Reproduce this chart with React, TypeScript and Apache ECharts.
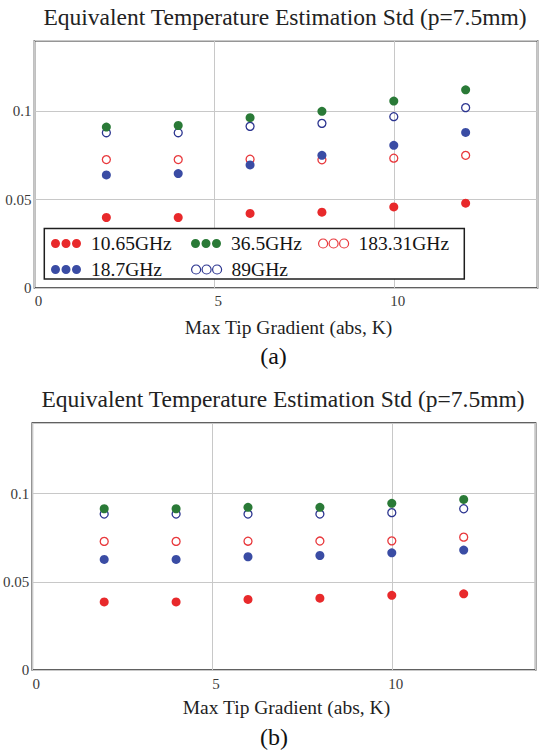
import { useEffect, useRef } from 'react';
import * as echarts from 'echarts';

// ---- data ----
const xValues = [2, 4, 6, 8, 10, 12];
const seriesNames = ['10.65GHz', '18.7GHz', '36.5GHz', '89GHz', '183.31GHz'];

const a_10_65 = [0.0399, 0.0399, 0.0422, 0.0429, 0.0459, 0.048];
const a_18_7 = [0.064, 0.0648, 0.0697, 0.0751, 0.0808, 0.0881];
const a_36_5 = [0.0911, 0.092, 0.0964, 0.1, 0.1058, 0.1122];
const a_89 = [0.0879, 0.0879, 0.0915, 0.0932, 0.097, 0.1021];
const a_183_31 = [0.0727, 0.0727, 0.0729, 0.0726, 0.0735, 0.0751];

const b_10_65 = [0.0386, 0.0386, 0.04, 0.0407, 0.0423, 0.0432];
const b_18_7 = [0.0627, 0.0627, 0.0642, 0.0649, 0.0664, 0.068];
const b_36_5 = [0.0914, 0.0914, 0.0922, 0.0922, 0.0945, 0.0967];
const b_89 = [0.0884, 0.0884, 0.0884, 0.0884, 0.0892, 0.0914];
const b_183_31 = [0.0729, 0.0729, 0.073, 0.0731, 0.0732, 0.0753];

const xMin = 0;
const xMax = 14;
const xInterval = 5;
const yMin = 0;
const yMax = 0.14;
const yInterval = 0.05;

const titleText = 'Equivalent Temperature Estimation Std (p=7.5mm)';
const xAxisTitle = 'Max Tip Gradient (abs, K)';
const panelLabels = ['(a)', '(b)'];

// ---- styles ----
const FONT = 'Liberation Serif, Times New Roman, serif';
const seriesStyle: Record<string, { color: string; hollow: boolean }> = {
  '10.65GHz': { color: '#e8292b', hollow: false },
  '18.7GHz': { color: '#3a4ca4', hollow: false },
  '36.5GHz': { color: '#2a7a37', hollow: false },
  '89GHz': { color: '#2c3590', hollow: true },
  '183.31GHz': { color: '#e8383c', hollow: true },
};
const drawOrder = ['89GHz', '183.31GHz', '10.65GHz', '18.7GHz', '36.5GHz'];

const dotsPath =
  'path://M0,4.5a4.5,4.5 0 1,0 9,0a4.5,4.5 0 1,0 -9,0Z' +
  'M10.5,4.5a4.5,4.5 0 1,0 9,0a4.5,4.5 0 1,0 -9,0Z' +
  'M21,4.5a4.5,4.5 0 1,0 9,0a4.5,4.5 0 1,0 -9,0Z';

const panelA: Record<string, number[]> = {
  '10.65GHz': a_10_65,
  '18.7GHz': a_18_7,
  '36.5GHz': a_36_5,
  '89GHz': a_89,
  '183.31GHz': a_183_31,
};
const panelB: Record<string, number[]> = {
  '10.65GHz': b_10_65,
  '18.7GHz': b_18_7,
  '36.5GHz': b_36_5,
  '89GHz': b_89,
  '183.31GHz': b_183_31,
};

function makeSeries(gi: number, vals: Record<string, number[]>) {
  return drawOrder.map((name, k) => {
    const st = seriesStyle[name];
    return {
      type: 'scatter',
      name,
      xAxisIndex: gi,
      yAxisIndex: gi,
      data: xValues.map((x, i) => [x, vals[name][i]]),
      symbol: 'circle',
      symbolSize: st.hollow ? 8 : 9,
      itemStyle: st.hollow
        ? { color: 'rgba(255,255,255,0)', borderColor: st.color, borderWidth: 1.3, opacity: 1 }
        : { color: st.color, opacity: 1 },
      emphasis: { disabled: true },
      z: 2 + k,
    };
  });
}

const grids = [
  { left: 34.5, top: 40.7, width: 503, height: 247.3, labelMargin: 5, nameGap: 29 },
  { left: 32.3, top: 423, width: 503.3, height: 247, labelMargin: 6, nameGap: 27 },
];

const legendLayout = [
  { name: '10.65GHz', left: 51, cy: 243.5 },
  { name: '36.5GHz', left: 191, cy: 243.5 },
  { name: '183.31GHz', left: 318, cy: 243.5 },
  { name: '18.7GHz', left: 51, cy: 269.5 },
  { name: '89GHz', left: 191, cy: 269.5 },
];

const fmt = (v: number) => String(parseFloat(v.toFixed(4)));

export default function App() {
  const ref = useRef<HTMLDivElement>(null);
  useEffect(() => {
    if (!ref.current) return;
    const chart = echarts.init(ref.current, undefined, { renderer: 'svg' });
    const option: any = {
      animation: false,
      backgroundColor: '#ffffff',
      textStyle: { fontFamily: FONT },
      grid: grids.map((g) => ({
        left: g.left,
        top: g.top,
        width: g.width,
        height: g.height,
        show: true,
        borderColor: '#2e2e2e',
        borderWidth: 1.6,
        backgroundColor: 'transparent',
        containLabel: false,
      })),
      xAxis: grids.map((g, i) => ({
        type: 'value',
        gridIndex: i,
        min: xMin,
        max: xMax,
        interval: xInterval,
        name: xAxisTitle,
        nameLocation: 'middle',
        nameGap: g.nameGap,
        nameTextStyle: { fontFamily: FONT, fontSize: 19.5, color: '#1e1e1e', lineHeight: 20, padding: [0, 0, 0, 5] },
        axisLine: { show: false },
        axisTick: { show: false },
        axisLabel: {
          fontFamily: FONT,
          fontSize: 15,
          color: '#3a3a3a',
          margin: g.labelMargin,
          showMaxLabel: false,
          padding: [0, 0, 0, 8],
          formatter: fmt,
        },
        splitLine: { show: true, lineStyle: { color: '#c8c8c8', width: 1 } },
      })),
      yAxis: grids.map((g, i) => ({
        type: 'value',
        gridIndex: i,
        min: yMin,
        max: yMax,
        interval: yInterval,
        axisLine: { show: false },
        axisTick: { show: false },
        axisLabel: {
          fontFamily: FONT,
          fontSize: 15,
          color: '#3a3a3a',
          margin: 3,
          showMaxLabel: false,
          formatter: fmt,
        },
        splitLine: { show: true, lineStyle: { color: '#c8c8c8', width: 1 } },
      })),
      legend: legendLayout.map((l) => {
        const st = seriesStyle[l.name];
        return {
          show: true,
          data: [
            {
              name: l.name,
              icon: dotsPath,
              itemStyle: st.hollow
                ? { color: 'rgba(255,255,255,0)', borderColor: st.color, borderWidth: 1.2, opacity: 1 }
                : { color: st.color, borderWidth: 0, opacity: 1 },
            },
          ],
          left: l.left,
          top: l.cy - 10,
          orient: 'horizontal',
          padding: 0,
          itemWidth: 30,
          itemHeight: 9,
          itemGap: 0,
          selectedMode: false,
          z: 10,
          textStyle: {
            fontFamily: FONT,
            fontSize: 19.5,
            color: '#141414',
            lineHeight: 20,
            padding: [0, 0, 0, 5],
          },
        };
      }),
      graphic: [
        {
          type: 'rect',
          z: 8,
          shape: { x: 44.3, y: 228.5, width: 420, height: 50.5 },
          style: { fill: '#ffffff', stroke: '#1e1e1e', lineWidth: 1.5 },
        },
        {
          type: 'text',
          x: 285,
          y: 16.5,
          style: { text: titleText, fontFamily: FONT, fontSize: 23.5, fill: '#222222', align: 'center', verticalAlign: 'middle' },
        },
        {
          type: 'text',
          x: 283,
          y: 398.5,
          style: { text: titleText, fontFamily: FONT, fontSize: 23.5, fill: '#222222', align: 'center', verticalAlign: 'middle' },
        },
        {
          type: 'text',
          x: 273.5,
          y: 356,
          style: { text: panelLabels[0], fontFamily: FONT, fontSize: 24, fill: '#111111', align: 'center', verticalAlign: 'middle' },
        },
        {
          type: 'text',
          x: 274,
          y: 737,
          style: { text: panelLabels[1], fontFamily: FONT, fontSize: 24, fill: '#111111', align: 'center', verticalAlign: 'middle' },
        },
      ],
      series: [...makeSeries(0, panelA), ...makeSeries(1, panelB)],
    };
    chart.setOption(option);
    return () => chart.dispose();
  }, []);
  return (
    <div
      ref={ref}
      style={{ position: 'absolute', left: 0, top: 0, width: 541, height: 754, background: '#fff' }}
    />
  );
}

export { seriesNames };
